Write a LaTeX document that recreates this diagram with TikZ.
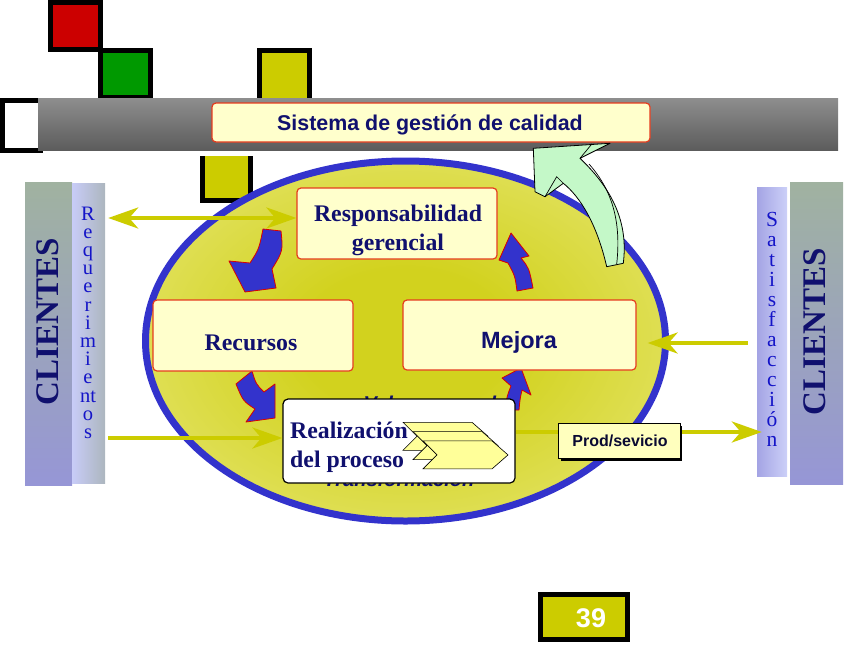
\documentclass[tikz,border=0pt]{standalone}
\usepackage{fontspec}
\setmainfont{Liberation Serif}
\setsansfont{Liberation Sans}
\usetikzlibrary{arrows.meta,calc}
\definecolor{navy}{RGB}{16,16,110}
\definecolor{olivey}{RGB}{204,204,0}
\definecolor{boxfill}{RGB}{255,255,204}
\definecolor{boxred}{RGB}{230,60,30}
\definecolor{ellblue}{RGB}{51,51,204}
\definecolor{ellin}{RGB}{210,210,30}
\definecolor{ellout}{RGB}{242,242,164}
\definecolor{greenarr}{RGB}{196,248,200}
\definecolor{lettblue}{RGB}{20,20,200}
\definecolor{bartop}{RGB}{142,142,142}
\definecolor{barbot}{RGB}{92,92,92}
\definecolor{panA}{RGB}{160,178,160}
\definecolor{panB}{RGB}{176,180,238}
\definecolor{panC}{RGB}{150,150,214}
\definecolor{reqL}{RGB}{200,204,248}
\definecolor{reqR}{RGB}{172,182,190}
\definecolor{satL}{RGB}{164,164,228}
\definecolor{satR}{RGB}{204,208,248}
\definecolor{chevfill}{RGB}{255,255,153}
\pgfdeclareradialshading{ellglow}{\pgfpoint{0bp}{0bp}}{color(0bp)=(ellin); color(10bp)=(ellin); color(48bp)=(ellout); color(80bp)=(ellout)}
\tikzset{
  sqr/.style={draw=black, line width=5pt},
  rbox/.style={draw=boxred, line width=1.2pt, fill=boxfill, rounded corners=4pt, inner sep=0pt},
  serifbold/.style={font=\rmfamily\bfseries\fontsize{23.8}{27}\selectfont, text=navy},
  sansbold/.style={font=\sffamily\bfseries\fontsize{23.5}{27}\selectfont, text=navy},
  hiddentxt/.style={font=\sffamily\bfseries\itshape\fontsize{20}{24}\selectfont, text=navy, anchor=base west},
  bluearrow/.style={fill=ellblue, draw=red!85!black, line width=0.8pt, line join=round},
  yarrow/.style={draw=olivey, line width=4pt},
  ytip/.tip={Stealth[length=30pt, width=21pt, inset=9pt, fill=olivey]},
  chev/.style={draw=black, line width=0.6pt, fill=chevfill},
  clientes/.style={font=\rmfamily\bfseries\fontsize{33}{36}\selectfont, text=navy, rotate=90},
  vstack/.style={text=lettblue, anchor=north, inner sep=0pt, align=center},
  greenarrow/.style={fill=greenarr, draw=black, line width=0.8pt, line join=round}
}
\begin{document}
\begin{tikzpicture}[x=1pt,y=-1pt]
\useasboundingbox (0,0) rectangle (864,648);
% decorative squares
\path[sqr, fill={rgb,255:red,204;green,0;blue,0}] (50.5,2.5) rectangle (100.5,49.5);
\path[sqr, fill={rgb,255:red,0;green,153;blue,0}] (100.5,50.5) rectangle (150.5,97);
\path[sqr, fill=olivey] (259.5,50.5) rectangle (309.5,100);
\path[sqr, fill=white] (2.5,100.5) rectangle (40,150.5);
% grey bar
\shade[top color=bartop, bottom color=barbot] (38,98) rectangle (838,150);
\node[rbox, minimum width=438pt, minimum height=39pt] (title) at (431,122.5) {};
\node[font=\sffamily\bfseries\fontsize{21.4}{24}\selectfont, text=navy, anchor=base] (titleT) at (430,130) {Sistema de gestión de calidad};
% square below bar
\fill[olivey] (200,156) rectangle (253,203);
\draw[line width=5pt] (202.5,156) -- (202.5,200.5) -- (250.5,200.5) -- (250.5,156);
% ellipse
\path[shade, shading=ellglow, draw=ellblue, line width=7pt] (405.5,341) ellipse [x radius=260, y radius=180];
% hidden texts behind process box
\node[hiddentxt] (valor) at (360,410.5) {Valor agregado};
\node[hiddentxt] (transf) at (320,486) {Transformación};
% blue cycle arrows
\path[bluearrow] (263,229) -- (281,231) .. controls (283,251) .. (272,269) -- (276,288) -- (245,292) -- (229,261) -- (250,263) .. controls (259,249) .. (263,229) -- cycle;
\path[bluearrow] (236,384) -- (252,371) .. controls (256,384) .. (264,392) -- (275,384) -- (275,418) -- (246,422) -- (255,409) .. controls (243,401) .. (236,384) -- cycle;
\path[bluearrow] (505,410) .. controls (507,396) .. (511,386) -- (502,378) -- (521,368) -- (531,395) -- (522,390) .. controls (520,399) .. (519,410) -- cycle;
\path[bluearrow] (517,291) .. controls (515,276) .. (508,263) -- (499,260) -- (511,233) -- (529,256) -- (521,258) .. controls (529,268) .. (533,288) -- cycle;
% boxes
\node[rbox, minimum width=200pt, minimum height=71pt] (resp) at (397,223.5) {};
\node[serifbold, anchor=base] (respT1) at (398,221.7) {Responsabilidad};
\node[serifbold, anchor=base] (respT2) at (398,250) {gerencial};
\node[rbox, minimum width=200pt, minimum height=71pt] (recursos) at (253,335.5) {};
\node[serifbold, anchor=base] (recT) at (251,350) {Recursos};
\node[rbox, minimum width=233pt, minimum height=70pt] (mejora) at (519.5,335) {};
\node[sansbold, anchor=base] (mejT) at (519,348) {Mejora};
% process box
\node[draw=black, line width=1.2pt, fill=white, rounded corners=5pt, minimum width=232pt, minimum height=84pt, inner sep=0pt] (proc) at (399,441) {};
\foreach \k in {0,1,2} {
  \path[chev] ({403+10*\k},{422.3+9.3*\k}) -- ++(69,0) -- ++(16,14) -- ++(-16,14) -- ++(-69,0) -- ++(14,-14) -- cycle;
}
\node[serifbold, anchor=base west, inner sep=0pt] (procT1) at (290,438.5) {Realización};
\node[serifbold, anchor=base west, inner sep=0pt] (procT2) at (290,467) {del proceso};
% side panels
\node[shade, top color=panA, middle color=panB, bottom color=panC, minimum width=47pt, minimum height=303pt, inner sep=0pt] (cliL) at (48.5,333.5) {};
\node[shade, left color=reqL, right color=reqR, minimum width=33pt, minimum height=300pt, inner sep=0pt] (reqstrip) at (88.5,333) {};
\node[clientes] (cliLT) at (48,322) {CLIENTES};
\node[vstack, font=\rmfamily\fontsize{20.5}{18.2}\selectfont] (reqT) at (88,206.5) {R\\e\\q\\u\\e\\r\\i\\m\\i\\e\\nt\\o\\s};
\node[shade, left color=satL, right color=satR, minimum width=30pt, minimum height=289pt, inner sep=0pt] (satstrip) at (772,331.5) {};
\node[shade, top color=panA, middle color=panB, bottom color=panC, minimum width=53pt, minimum height=302pt, inner sep=0pt] (cliR) at (816.5,333) {};
\node[clientes] (cliRT) at (815,332) {CLIENTES};
\node[vstack, font=\rmfamily\fontsize{21.5}{20}\selectfont] (satT) at (772,212.5) {S\\a\\t\\i\\s\\f\\a\\c\\c\\i\\ó\\n};
% yellow arrows
\draw[yarrow, ytip-ytip] ($(reqstrip.east |- resp.west)+(3,-5.5)$) -- ($(resp.west)+(0,-5.5)$);
\draw[yarrow, -ytip] ($(reqstrip.east |- proc.west)+(3,-3)$) -- ($(proc.west)+(0,-3)$);
\draw[yarrow, -ytip] ($(satstrip.west |- mejora.east)+(-9,8)$) -- ($(mejora.east)+(11,8)$);
\draw[yarrow, -ytip] ($(proc.east)+(0,-9)$) -- ($(satstrip.west |- proc.east)+(5,-9)$);
% product box
\fill[black] (560.5,425.5) rectangle (682,460.5);
\node[draw=black, line width=1pt, fill={rgb,255:red,255;green,255;blue,190}, minimum width=122pt, minimum height=35pt, inner sep=0pt] (prod) at (619,440.5) {};
\node[font=\sffamily\bfseries\fontsize{16}{19}\selectfont, text={rgb,255:red,10;green,10;blue,50}, anchor=base] (prodT) at (620,446) {Prod/sevicio};
% green arrow
\path[greenarrow] (606.7,266.7) .. controls (596.7,223.3) and (580,196.7) .. (563.3,183.3) -- (545,196.7) -- (535,191.7) -- (533.3,148.3) -- (610,143.3) -- (580,158.3) .. controls (613.3,190) and (628.3,223.3) .. (623.3,263.3) -- cycle;
\draw[line width=0.7pt] (589,164) .. controls (614,192) and (621,225) .. (616.7,264);
\draw[line width=0.7pt] (545,196.7) -- (556.7,176.7) -- (563.3,183.3);
\draw[line width=0.7pt] (592,143.8) -- (580,158.3);
% page number
\node[draw=black, line width=5pt, fill=olivey, minimum width=87pt, minimum height=45pt, inner sep=0pt] (pnum) at (584,617) {};
\node[font=\sffamily\bfseries\fontsize{27}{30}\selectfont, text=white] (pnumT) at (591,618) {39};
\end{tikzpicture}
\end{document}
